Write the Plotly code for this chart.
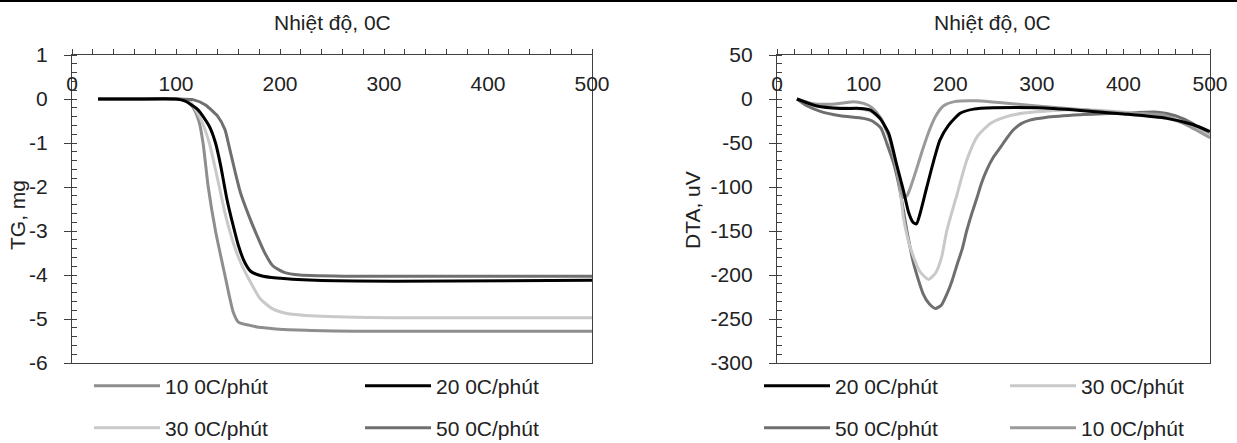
import plotly.graph_objects as go

# ---------------- Data ----------------
# TG (mg) vs temperature (°C)
tg10_T = [25, 60, 100, 109, 116, 122, 126, 131, 138, 147, 155, 160, 170, 178, 190, 204, 230, 272, 350, 500]
tg10_Y = [0, 0, 0, -0.03, -0.18, -0.5, -1.0, -2.0, -3.0, -4.0, -4.84, -5.07, -5.14, -5.18, -5.21, -5.24, -5.26, -5.28, -5.28, -5.28]

tg20_T = [25, 60, 100, 109, 121, 132, 138, 143, 149, 155, 160, 166, 172, 181, 197, 234, 310, 500]
tg20_Y = [0, 0, 0, -0.05, -0.24, -0.62, -1.0, -1.52, -2.28, -2.88, -3.33, -3.71, -3.92, -4.01, -4.07, -4.12, -4.14, -4.12]

tg30_T = [25, 60, 100, 113, 124, 132, 140, 147, 155, 162, 170, 181, 193, 208, 234, 310, 500]
tg30_Y = [0, 0, 0, -0.05, -0.47, -1.0, -1.82, -2.58, -3.26, -3.71, -4.09, -4.54, -4.77, -4.88, -4.93, -4.97, -4.97]

tg50_T = [25, 60, 100, 117, 128, 140, 147, 151, 157, 162, 170, 178, 185, 193, 204, 219, 272, 500]
tg50_Y = [0, 0, 0, -0.02, -0.13, -0.39, -0.69, -1.07, -1.67, -2.13, -2.65, -3.11, -3.48, -3.79, -3.94, -4.0, -4.03, -4.03]

# DTA (uV) vs temperature (°C)
dta20_T = [23, 46, 73, 96, 108, 119, 129, 138, 146, 152, 157, 161, 165, 173, 181, 188, 198, 212, 227, 250, 300, 350, 400, 450, 480, 500]
dta20_Y = [0, -8, -10.7, -10.7, -12.6, -22, -39, -74, -104, -129, -140, -142, -131, -100, -70, -47, -30, -16, -11.5, -10, -10, -13, -17, -22, -29, -37]

dta30_T = [23, 40, 60, 80, 100, 110, 120, 128, 135, 142, 146, 154, 165, 175, 183, 190, 196, 208, 219, 231, 246, 265, 285, 320, 350, 400, 440, 470, 500]
dta30_Y = [0, -6, -9, -10, -12, -15, -24, -40, -65, -100, -135, -169, -196, -205, -198, -180, -150, -108, -70, -43, -28, -20, -16, -13, -12, -15, -19, -28, -42]

dta50_T = [23, 35, 50, 73, 100, 110, 120, 127, 135, 142, 150, 158, 169, 176, 183, 190, 196, 202, 208, 214, 219, 225, 231, 236, 242, 250, 258, 265, 273, 282, 292, 310, 350, 400, 440, 460, 480, 500]
dta50_Y = [0, -8, -14, -19, -22, -25, -33, -51, -74, -104, -150, -188, -222, -233, -238, -234, -222, -207, -188, -170, -150, -130, -112, -96, -81, -66, -55, -45, -35, -28, -24, -21, -18, -16, -15, -19, -28, -42]

dta10_T = [23, 40, 60, 80, 88, 100, 110, 120, 130, 137, 142, 146, 150, 155, 161, 168, 175, 183, 192, 205, 230, 300, 350, 400, 445, 470, 500]
dta10_Y = [0, -5, -6, -4, -3, -5, -10, -22, -45, -75, -100, -112, -110, -98, -80, -58, -38, -20, -8, -3, -2, -8, -12, -16, -18, -28, -44]

# Tick labels (plain hyphen minus as in the original)
temp_ticks = [0, 100, 200, 300, 400, 500]
temp_ticktext = ["0", "100", "200", "300", "400", "500"]
tg_ticks = [1, 0, -1, -2, -3, -4, -5, -6]
tg_ticktext = ["1", "0", "-1", "-2", "-3", "-4", "-5", "-6"]
dta_ticks = [50, 0, -50, -100, -150, -200, -250, -300]
dta_ticktext = ["50", "0", "-50", "-100", "-150", "-200", "-250", "-300"]

legend_labels = {"10": "10 0C/phút", "20": "20 0C/phút", "30": "30 0C/phút", "50": "50 0C/phút"}
x_title = "Nhiệt độ, 0C"
tg_title = "TG, mg"
dta_title = "DTA, uV"

# ---------------- Styling ----------------
FONT = "Liberation Sans, Arial, sans-serif"
W, H = 1237, 443
C10, C20, C30, C50 = "#8e8e8e", "#000000", "#c9c9c9", "#6f6f6f"
C10R = "#9a9a9a"
AX = "#404040"
TXT = "#222222"
LW = 3


def px(v):
    return v / W


def py(v):
    return 1 - v / H


def line(c):
    return dict(color=c, width=LW, shape="spline", smoothing=0.6)


fig = go.Figure()

# Left chart (TG)
fig.add_trace(go.Scatter(x=tg10_T, y=tg10_Y, mode="lines", name=legend_labels["10"], line=line(C10),
                         xaxis="x", yaxis="y", legend="legend", legendrank=1))
fig.add_trace(go.Scatter(x=tg30_T, y=tg30_Y, mode="lines", name=legend_labels["30"], line=line(C30),
                         xaxis="x", yaxis="y", legend="legend2", legendrank=1))
fig.add_trace(go.Scatter(x=tg50_T, y=tg50_Y, mode="lines", name=legend_labels["50"], line=line(C50),
                         xaxis="x", yaxis="y", legend="legend2", legendrank=2))
fig.add_trace(go.Scatter(x=tg20_T, y=tg20_Y, mode="lines", name=legend_labels["20"], line=line(C20),
                         xaxis="x", yaxis="y", legend="legend", legendrank=2))

# Right chart (DTA)
fig.add_trace(go.Scatter(x=dta50_T, y=dta50_Y, mode="lines", name=legend_labels["50"], line=line(C50),
                         xaxis="x2", yaxis="y2", legend="legend4", legendrank=1))
fig.add_trace(go.Scatter(x=dta30_T, y=dta30_Y, mode="lines", name=legend_labels["30"], line=line(C30),
                         xaxis="x2", yaxis="y2", legend="legend3", legendrank=2))
fig.add_trace(go.Scatter(x=dta10_T, y=dta10_Y, mode="lines", name=legend_labels["10"], line=line(C10R),
                         xaxis="x2", yaxis="y2", legend="legend4", legendrank=2))
fig.add_trace(go.Scatter(x=dta20_T, y=dta20_Y, mode="lines", name=legend_labels["20"], line=line(C20),
                         xaxis="x2", yaxis="y2", legend="legend3", legendrank=1))

tickfont = dict(family=FONT, size=21, color=TXT)

ydom = [py(363), py(55)]
xdom1 = [px(72), px(592)]
xdom2 = [px(777), px(1210)]


def xaxis_main(domain, anchor):
    return dict(domain=domain, anchor=anchor, side="top", range=[0, 500],
                tickmode="array", tickvals=temp_ticks, ticktext=temp_ticktext,
                ticks="outside", ticklen=5, tickwidth=1.3, tickcolor=AX,
                minor=dict(dtick=20, tick0=0, ticks="outside", ticklen=5, tickwidth=1.3, tickcolor=AX),
                showline=True, linecolor=AX, linewidth=1.3, mirror=True,
                ticklabelposition="inside", ticklabelstandoff=22, ticklabeloverflow="allow",
                showgrid=False, zeroline=False, tickfont=tickfont, fixedrange=True, automargin=False)


def xaxis_cross(over, anchor):
    return dict(overlaying=over, anchor=anchor, side="top", range=[0, 500],
                tickmode="array", tickvals=temp_ticks,
                ticks="inside", ticklen=8, tickwidth=1.3, tickcolor=AX,
                showticklabels=False, showline=False, showgrid=False, zeroline=False, automargin=False)


def yaxis_main(domain, anchor, rng, tv, tt, mdtick):
    return dict(domain=domain, anchor=anchor, range=rng,
                tickmode="array", tickvals=tv, ticktext=tt,
                ticks="outside", ticklen=7, tickwidth=1.3, tickcolor=AX,
                minor=dict(dtick=mdtick, tick0=0, ticks="inside", ticklen=5, tickwidth=1.3, tickcolor=AX),
                showline=True, linecolor=AX, linewidth=1.3, mirror=True,
                ticklabelstandoff=12,
                showgrid=False, zeroline=False, tickfont=tickfont, fixedrange=True, automargin=False)


def yaxis_cross(over, anchor, rng, tv):
    return dict(overlaying=over, anchor=anchor, range=rng,
                tickmode="array", tickvals=tv,
                ticks="inside", ticklen=7, tickwidth=1.3, tickcolor=AX,
                showticklabels=False, showline=False, showgrid=False, zeroline=False, automargin=False)


legfont = dict(family=FONT, size=21, color=TXT)


def leg(x, y, ew):
    return dict(orientation="h", x=x, y=y, xref="container", yref="container",
                xanchor="left", yanchor="middle",
                entrywidth=ew, entrywidthmode="pixels", itemwidth=66,
                font=legfont, bgcolor="rgba(0,0,0,0)", borderwidth=0, traceorder="normal")


fig.update_layout(
    template="none",
    width=W, height=H,
    margin=dict(l=0, r=0, t=0, b=0, autoexpand=False),
    paper_bgcolor="white", plot_bgcolor="white",
    font=dict(family=FONT, size=21, color=TXT),
    xaxis=xaxis_main(xdom1, "y"),
    yaxis=yaxis_main(ydom, "x", [-6, 1], tg_ticks, tg_ticktext, 0.2),
    xaxis2=xaxis_main(xdom2, "y2"),
    yaxis2=yaxis_main(ydom, "x2", [-300, 50], dta_ticks, dta_ticktext, 10),
    xaxis3=xaxis_cross("x", "y"),
    yaxis3=yaxis_cross("y", "x", [-6, 1], tg_ticks),
    xaxis4=xaxis_cross("x2", "y2"),
    yaxis4=yaxis_cross("y2", "x2", [-300, 50], dta_ticks),
    legend=leg(px(89), py(386), 190),
    legend2=leg(px(89), py(428), 190),
    legend3=leg(px(759), py(386), 165),
    legend4=leg(px(759), py(428), 165),
    showlegend=True,
    annotations=[
        dict(text=x_title, x=px(332), y=py(22), xref="paper", yref="paper", showarrow=False,
             font=dict(family=FONT, size=21, color=TXT), xanchor="center", yanchor="middle"),
        dict(text=x_title, x=px(992), y=py(22), xref="paper", yref="paper", showarrow=False,
             font=dict(family=FONT, size=21, color=TXT), xanchor="center", yanchor="middle"),
        dict(text=tg_title, x=px(17), y=py(215), xref="paper", yref="paper", showarrow=False, textangle=-90,
             font=dict(family=FONT, size=21, color=TXT), xanchor="center", yanchor="middle"),
        dict(text=dta_title, x=px(692), y=py(210), xref="paper", yref="paper", showarrow=False, textangle=-90,
             font=dict(family=FONT, size=21, color=TXT), xanchor="center", yanchor="middle"),
    ],
    shapes=[dict(type="line", xref="paper", yref="paper", x0=0, x1=1, y0=1 - 1 / H, y1=1 - 1 / H,
                 line=dict(color="black", width=2))],
)

fig.write_html("out.html")
